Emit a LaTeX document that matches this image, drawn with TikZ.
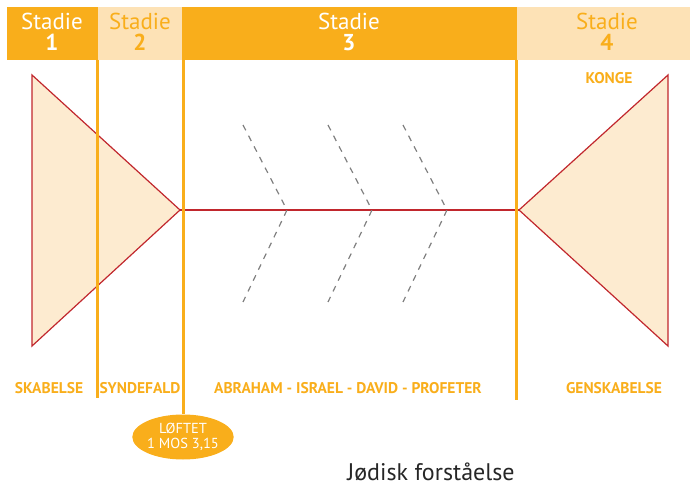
\documentclass[tikz,border=0pt]{standalone}
\usepackage{fontspec}
\setmainfont{PT Sans}
\usetikzlibrary{shapes.geometric}
\definecolor{dorange}{HTML}{F9AE1B}
\definecolor{lorange}{HTML}{FDE2B6}
\definecolor{tfill}{HTML}{FDEBD0}
\definecolor{tred}{HTML}{C1272D}
\definecolor{dgray}{HTML}{808080}
\tikzset{
  hdr/.style={draw=none, anchor=north west, inner sep=0pt},
  stxt/.style={anchor=base, font=\fontsize{23}{23}\selectfont, inner sep=0pt},
  snum/.style={anchor=base, font=\fontsize{23}{23}\selectfont\bfseries, inner sep=0pt},
  lbl/.style={text=dorange, font=\fontsize{15.5}{16}\selectfont\bfseries, inner sep=0pt},
  vline/.style={draw=dorange, line width=3pt},
  tri/.style={draw=tred, fill=tfill, line width=1.2pt, line join=miter},
  chev/.style={draw=dgray, dashed, dash pattern=on 6pt off 6pt, line width=1.2pt}
}
\begin{document}
\begin{tikzpicture}[x=1pt,y=-1pt]
\useasboundingbox (0,0) rectangle (690,486);
% header
\node[hdr, fill=dorange, minimum width=91pt, minimum height=53pt] (h1) at (7,7) {};
\node[hdr, fill=lorange, minimum width=84pt, minimum height=53pt] (h2) at (98,7) {};
\node[hdr, fill=dorange, minimum width=335pt, minimum height=53pt] (h3) at (182,7) {};
\node[hdr, fill=lorange, minimum width=173pt, minimum height=53pt] (h4) at (517,7) {};
\node[stxt, text=white] (t1) at (52,30) {Stadie};
\node[snum, text=white] (n1) at (52,51) {1};
\node[stxt, text=dorange] (t2) at (140,30) {Stadie};
\node[snum, text=dorange] (n2) at (140,51) {2};
\node[stxt, text=white] (t3) at (349,30) {Stadie};
\node[snum, text=white] (n3) at (349,51) {3};
\node[stxt, text=dorange] (t4) at (607,30) {Stadie};
\node[snum, text=dorange] (n4) at (607,51) {4};
% triangles
\draw[tri] (32,75) -- (32,346) -- (180,210) -- cycle;
\draw[tri] (668,75) -- (668,346) -- (519,210) -- cycle;
\coordinate (pl) at (180,210);
\coordinate (pr) at (519,210);
\draw[draw=tred, line width=1.2pt] (pl) -- (pr);
% chevrons
\foreach \tx/\ex [count=\i] in {287/243,372/328,447/403}{
  \coordinate (ct\i) at (\tx,210);
  \coordinate (ca\i) at (\ex,125);
  \coordinate (cb\i) at (\ex,302);
  \draw[chev] (ca\i) -- (ct\i) -- (cb\i);
}
% vertical lines
\coordinate (v1a) at (97,60); \coordinate (v1b) at (97,398);
\coordinate (v2a) at (183,60);
\coordinate (v3a) at (516,60); \coordinate (v3b) at (516,400);
\draw[vline] (v1a) -- (v1b);
\draw[vline] (v3a) -- (v3b);
% ellipse
\node[ellipse, fill=dorange, minimum width=94pt, minimum height=45pt, inner sep=0pt, text=white, align=center, font=\fontsize{14.5}{15}\selectfont] (loft) at (183,437) {LØFTET\\1 MOS 3,15};
\draw[vline] (v2a) -- (loft.north);
% labels
\node[lbl] (l1) at (49,388) {SKABELSE};
\node[lbl] (l2) at (140,388) {SYNDEFALD};
\node[lbl] (l3) at (348,388) {ABRAHAM - ISRAEL - DAVID - PROFETER};
\node[lbl] (l4) at (614,388) {GENSKABELSE};
\node[lbl] (k) at (609,78) {KONGE};
\node[font=\fontsize{24}{24}\selectfont, text=black!85, inner sep=0pt] (ttl) at (431,472) {Jødisk forståelse};
\end{tikzpicture}
\end{document}
